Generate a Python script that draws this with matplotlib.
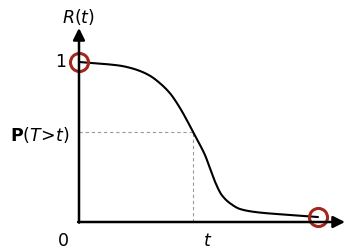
import matplotlib
matplotlib.use("Agg")
import matplotlib.pyplot as plt
import numpy as np

# Survival curve R(t) (t scaled 0..1)
t_vals = [0.0, 0.088, 0.172, 0.213, 0.255, 0.297, 0.339, 0.381, 0.415, 0.451,
          0.477, 0.499, 0.527, 0.548, 0.569, 0.597, 0.632, 0.674, 0.729, 0.792,
          0.883, 1.0]
r_vals = [1.0, 0.990, 0.977, 0.964, 0.944, 0.914, 0.867, 0.804, 0.731, 0.6375,
          0.5625, 0.502, 0.419, 0.336, 0.252, 0.169, 0.117, 0.081, 0.064, 0.054,
          0.044, 0.031]
t_mark = 0.477
p_mark = 0.5625
end_points_t = [0.0, 1.0]
end_points_r = [1.0, 0.031]


def pchip(x, y, xn):
    x = np.asarray(x, float); y = np.asarray(y, float)
    h = np.diff(x); d = np.diff(y) / h
    n = len(x); m = np.zeros(n)
    for k in range(1, n - 1):
        if d[k - 1] * d[k] > 0:
            w1 = 2 * h[k] + h[k - 1]; w2 = h[k] + 2 * h[k - 1]
            m[k] = (w1 + w2) / (w1 / d[k - 1] + w2 / d[k])
    m[0] = d[0]; m[-1] = d[-1]
    idx = np.clip(np.searchsorted(x, xn) - 1, 0, n - 2)
    hh = h[idx]; s = (xn - x[idx]) / hh
    h00 = 2*s**3 - 3*s**2 + 1; h10 = s**3 - 2*s**2 + s
    h01 = -2*s**3 + 3*s**2; h11 = s**3 - s**2
    return h00*y[idx] + h10*hh*m[idx] + h01*y[idx+1] + h11*hh*m[idx+1]


fig = plt.figure(figsize=(3.51, 2.52), dpi=100)
ax = fig.add_axes([0, 0, 1, 1])
ax.set_xlim(-79/239, 272/239)
ax.set_ylim(-30/160, 222/160)
ax.axis('off')

dark_red = '#a3281c'

# dashed guides
ax.plot([0, t_mark], [p_mark, p_mark], color='#9a9a9a', lw=0.8, ls=(0, (3, 2.5)))
ax.plot([t_mark, t_mark], [0, p_mark], color='#9a9a9a', lw=0.8, ls=(0, (3, 2.5)))

# axes with arrows
ax.annotate('', xy=(0, 1.2125), xytext=(0, -0.004),
            arrowprops=dict(arrowstyle='-|>,head_length=0.7,head_width=0.35', color='black', lw=1.8, shrinkA=0, shrinkB=0))
ax.annotate('', xy=(1.113, 0), xytext=(-0.004, 0),
            arrowprops=dict(arrowstyle='-|>,head_length=0.7,head_width=0.35', color='black', lw=1.8, shrinkA=0, shrinkB=0))

# curve (smooth through the read points)
tt = np.linspace(0, 1, 500)
ax.plot(tt, pchip(t_vals, r_vals, tt), color='black', lw=1.5, solid_joinstyle='round', solid_capstyle='round')

# circles
ax.plot(end_points_t, end_points_r, 'o', ms=13, mfc='none', mec=dark_red, mew=2.2)

# labels
fs = 12.5
ax.text(-1/239, 205/160, r'$R(t)$', fontsize=fs, ha='center', va='center')
ax.text(-13/239, 1.0, '1', fontsize=fs, ha='right', va='center')
ax.text(-9/239, (222-135)/160, r'$\mathbf{P}(T\!>\!t)$', fontsize=fs, ha='right', va='center')
ax.text(-16/239, -19/160, '0', fontsize=fs, ha='center', va='center')
ax.text(t_mark + 15/239, -19/160, r'$t$', fontsize=fs, ha='center', va='center')

fig.savefig('out.png', dpi=100)
